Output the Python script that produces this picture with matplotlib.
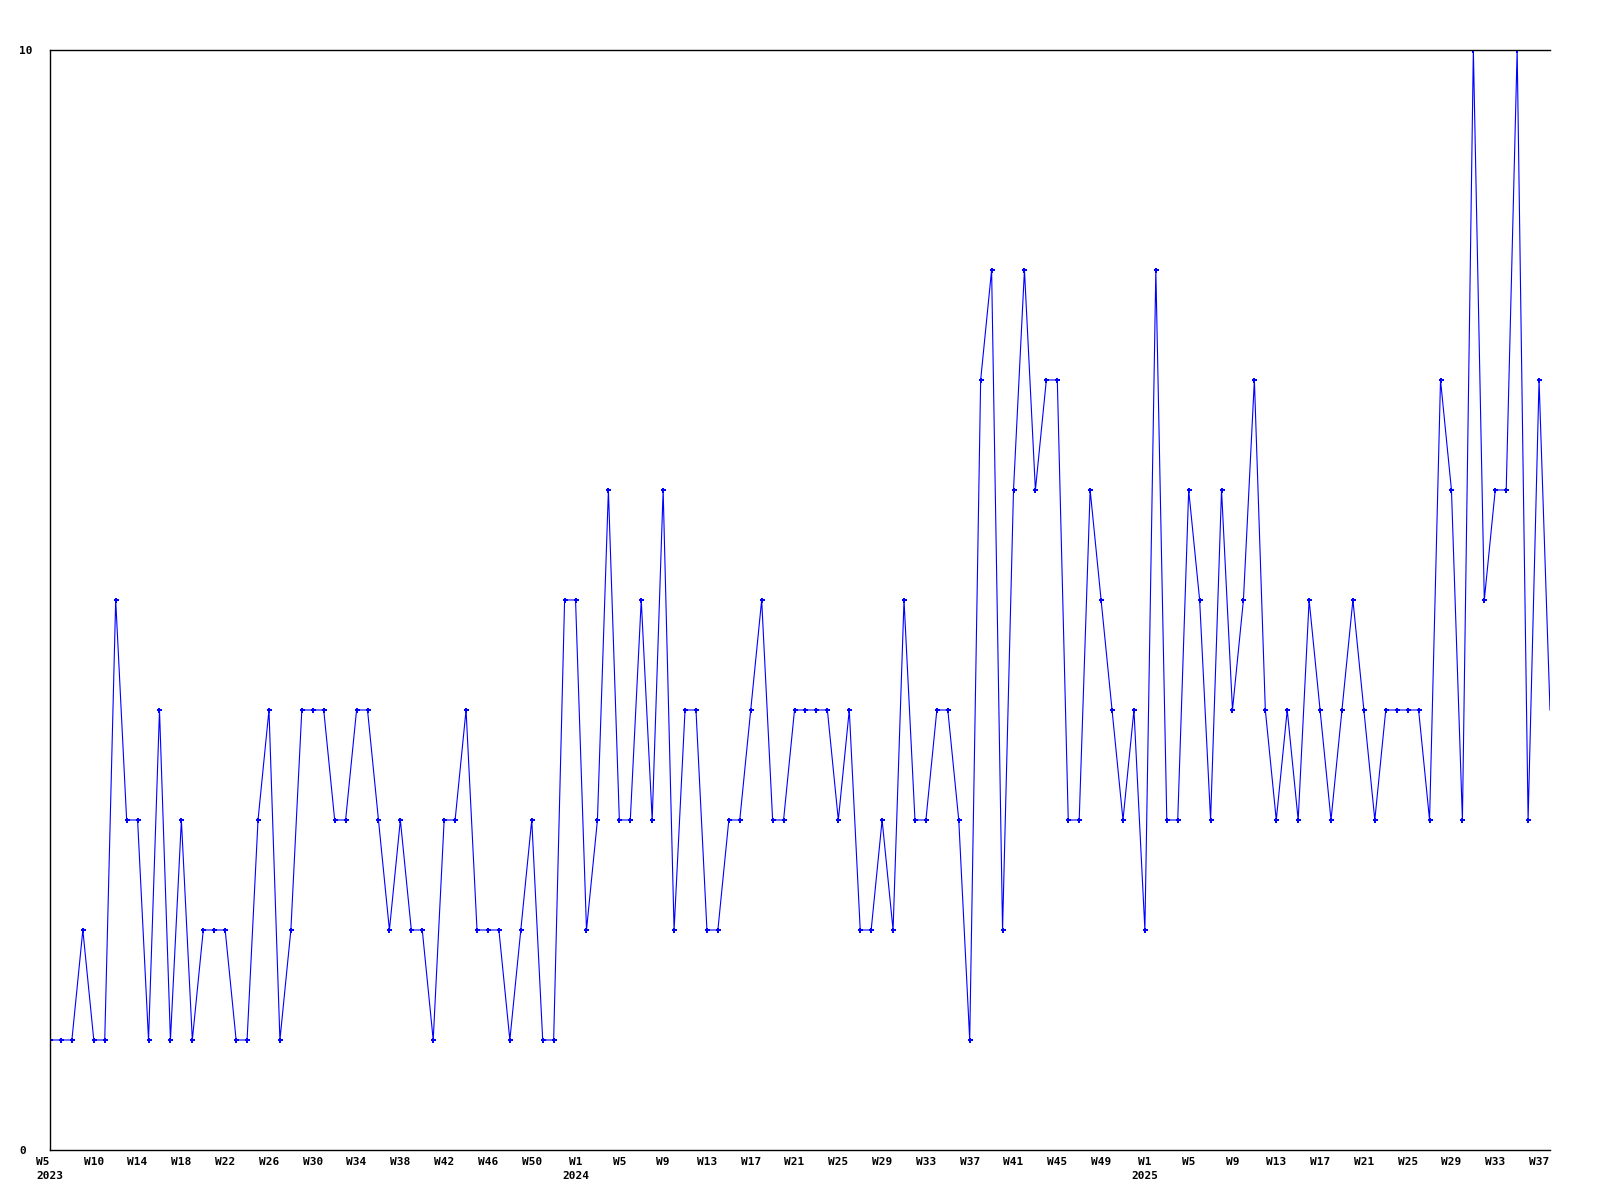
import matplotlib
matplotlib.use("Agg")
import matplotlib.pyplot as plt

# Weekly values, 2023-W05 .. 2025-W38
values = [
    1, 1, 1, 2, 1, 1, 5, 3, 3, 1,
    4, 1, 3, 1, 2, 2, 2, 1, 1, 3,
    4, 1, 2, 4, 4, 4, 3, 3, 4, 4,
    3, 2, 3, 2, 2, 1, 3, 3, 4, 2,
    2, 2, 1, 2, 3, 1, 1, 5, 5, 2,
    3, 6, 3, 3, 5, 3, 6, 2, 4, 4,
    2, 2, 3, 3, 4, 5, 3, 3, 4, 4,
    4, 4, 3, 4, 2, 2, 3, 2, 5, 3,
    3, 4, 4, 3, 1, 7, 8, 2, 6, 8,
    6, 7, 7, 3, 3, 6, 5, 4, 3, 4,
    2, 8, 3, 3, 6, 5, 3, 6, 4, 5,
    7, 4, 3, 4, 3, 5, 4, 3, 4, 5,
    4, 3, 4, 4, 4, 4, 3, 7, 6, 3,
    10, 5, 6, 6, 10, 3, 7, 4,
]

tick_labels = [
    "W5\n2023", "W10", "W14", "W18", "W22", "W26", "W30", "W34", "W38", "W42", "W46", "W50",
    "W1\n2024", "W5", "W9", "W13", "W17", "W21", "W25", "W29", "W33", "W37", "W41", "W45", "W49",
    "W1\n2025", "W5", "W9", "W13", "W17", "W21", "W25", "W29", "W33", "W37",
]
y_ticks = [0, 10]

x = list(range(len(values)))
tick_pos = [4 * i for i in range(len(tick_labels))]

fig = plt.figure(figsize=(16, 12), dpi=100)
ax = fig.add_axes([0.03125, 0.04167, 0.9375, 0.9167])

ax.plot(x, values, color="#0000FF", linewidth=0.8, marker="P", markersize=3.6,
        markeredgewidth=0, markevery=list(range(len(values) - 1)), clip_on=True)

ax.set_xlim(0, len(values) - 1)
ax.set_ylim(0, 10)

ax.set_xticks(tick_pos)
ax.set_xticklabels(tick_labels, fontfamily="DejaVu Sans Mono", fontweight="bold",
                   fontsize=8, linespacing=1.5)
for i, lbl in enumerate(ax.get_xticklabels()):
    lbl.set_horizontalalignment("center")
    if i == 0:
        lbl.set_multialignment("left")
    else:
        lbl.set_multialignment("center")
ax.set_yticks(y_ticks)
ax.set_yticklabels([str(v) for v in y_ticks], fontfamily="DejaVu Sans Mono",
                   fontweight="bold", fontsize=8)
for lbl in ax.get_yticklabels():
    lbl.set_horizontalalignment("left")
ax.tick_params(axis="x", length=0, pad=5)
ax.tick_params(axis="y", length=0, pad=22)

for s in ["left", "top", "bottom"]:
    ax.spines[s].set_color("black")
    ax.spines[s].set_linewidth(1.0)
ax.spines["right"].set_visible(False)

fig.savefig("out.png", dpi=100)
